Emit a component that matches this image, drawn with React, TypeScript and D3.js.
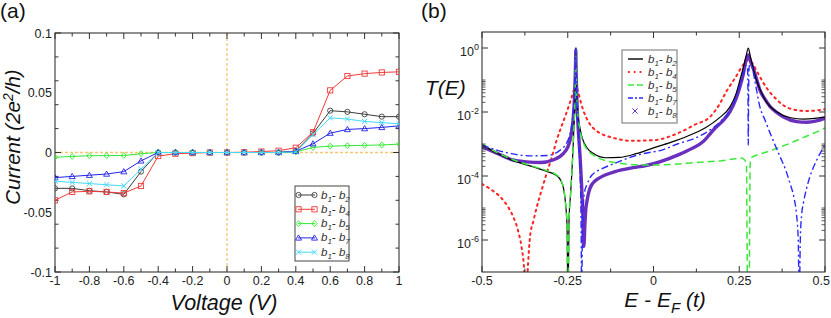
import React from 'react';
import * as d3 from 'd3';

// ---- panel (a): I-V curves ----
const voltage = [-1, -0.9, -0.8, -0.7, -0.6, -0.5, -0.4, -0.3, -0.2, -0.1, 0, 0.1, 0.2, 0.3, 0.4, 0.5, 0.6, 0.7, 0.8, 0.9, 1];
const curB2 = [-0.030, -0.030, -0.032, -0.033, -0.035, -0.016, 0, 0, 0, 0, 0, 0, 0, 0, 0.0012, 0.016, 0.035, 0.034, 0.032, 0.030, 0.030];
const curB4 = [-0.040, -0.033, -0.0325, -0.033, -0.034, -0.028, -0.003, -0.001, -0.0005, 0, 0, 0.0002, 0.0008, 0.0015, 0.004, 0.017, 0.052, 0.064, 0.066, 0.067, 0.0675];
const curB5 = [-0.004, -0.0033, -0.0027, -0.0026, -0.0025, -0.001, 0, 0, 0, 0, 0, 0, 0, 0, 0.0005, 0.0042, 0.0053, 0.0057, 0.006, 0.0063, 0.007];
const curB7 = [-0.021, -0.020, -0.019, -0.018, -0.016, -0.007, 0, 0, 0, 0, 0, 0, 0, 0, 0.001, 0.0073, 0.0162, 0.0193, 0.020, 0.021, 0.0223];
const curB8 = [-0.024, -0.025, -0.026, -0.027, -0.028, -0.014, 0, 0, 0, 0, 0, 0, 0, 0, 0.0005, 0.015, 0.029, 0.028, 0.026, 0.025, 0.024];
const voltTicks = [-1, -0.8, -0.6, -0.4, -0.2, 0, 0.2, 0.4, 0.6, 0.8, 1];
const voltTickLabels = ['-1', '-0.8', '-0.6', '-0.4', '-0.2', '0', '0.2', '0.4', '0.6', '0.8', '1'];
const curTicks = [-0.1, -0.05, 0, 0.05, 0.1];
const curTickLabels = ['-0.1', '-0.05', '0', '0.05', '0.1'];

// ---- panel (b): transmission, [E, log10 T] ----
const tB2: [number, number][] = [
  [-0.5, -3.03], [-0.45, -3.32], [-0.4, -3.55], [-0.35, -3.72], [-0.31, -3.86], [-0.285, -3.97], [-0.27, -4.15],
  [-0.262, -4.4], [-0.256, -4.9], [-0.252, -5.6], [-0.2495, -8], [-0.246, -5.3], [-0.242, -4.6], [-0.238, -3.9],
  [-0.234, -3.0], [-0.231, -2.2], [-0.2285, -1.4], [-0.2272, -0.7], [-0.2265, 0], [-0.226, -0.6], [-0.224, -1.4],
  [-0.221, -2.0], [-0.216, -2.4], [-0.208, -2.8], [-0.195, -3.1], [-0.175, -3.3], [-0.14, -3.43], [-0.1, -3.42],
  [-0.05, -3.3], [0, -3.12], [0.05, -2.95], [0.1, -2.75], [0.15, -2.5], [0.19, -2.2], [0.223, -1.84], [0.24, -1.45],
  [0.252, -1.0], [0.262, -0.6], [0.27, -0.25], [0.2764, 0], [0.283, -0.3], [0.29, -0.6], [0.3, -1.0], [0.315, -1.4],
  [0.33, -1.7], [0.36, -2.0], [0.4, -2.18], [0.436, -2.22], [0.47, -2.2], [0.5, -2.15],
];
const tB4: [number, number][] = [
  [-0.5, -4.25], [-0.47, -4.45], [-0.447, -4.65], [-0.425, -4.95], [-0.41, -5.25], [-0.395, -5.7], [-0.385, -6.2],
  [-0.378, -6.8], [-0.372, -8], [-0.366, -6.8], [-0.36, -5.9], [-0.35, -5.4], [-0.34, -4.96], [-0.325, -4.4],
  [-0.311, -3.9], [-0.296, -3.4], [-0.282, -2.87], [-0.27, -2.5], [-0.258, -2.15], [-0.245, -1.75], [-0.238, -1.52],
  [-0.232, -1.3], [-0.2265, -1.15], [-0.22, -1.35], [-0.213, -1.65], [-0.205, -1.94], [-0.19, -2.3], [-0.176, -2.5],
  [-0.156, -2.66], [-0.12, -2.8], [-0.064, -2.9], [0, -2.88], [0.072, -2.66], [0.12, -2.4], [0.165, -2.15],
  [0.19, -1.8], [0.213, -1.35], [0.24, -0.9], [0.262, -0.52], [0.2764, -0.38], [0.29, -0.5], [0.3, -0.7],
  [0.33, -1.25], [0.36, -1.62], [0.38, -1.8], [0.407, -1.92], [0.447, -1.97], [0.475, -1.95], [0.5, -1.91],
];
const tB5: [number, number][] = [
  [-0.5, -3.0], [-0.45, -3.3], [-0.4, -3.53], [-0.35, -3.7], [-0.31, -3.84], [-0.285, -3.95], [-0.27, -4.13],
  [-0.262, -4.4], [-0.256, -4.9], [-0.252, -5.6], [-0.2495, -8], [-0.246, -5.3], [-0.242, -4.6], [-0.238, -3.9],
  [-0.234, -3.0], [-0.231, -2.2], [-0.2285, -1.4], [-0.2272, -0.7], [-0.2265, -0.05], [-0.226, -0.6], [-0.224, -1.4],
  [-0.221, -2.0], [-0.216, -2.45], [-0.208, -2.85], [-0.195, -3.15], [-0.175, -3.35], [-0.14, -3.52], [-0.1, -3.6],
  [-0.05, -3.65], [0, -3.66], [0.05, -3.64], [0.1, -3.6], [0.15, -3.56], [0.2, -3.52], [0.24, -3.46], [0.256, -3.44],
  [0.266, -3.5], [0.271, -3.65], [0.2745, -8], [0.2785, -8], [0.282, -3.6], [0.286, -3.42], [0.3, -3.35],
  [0.33, -3.25], [0.36, -3.13], [0.4, -2.97], [0.436, -2.8], [0.47, -2.65], [0.5, -2.5],
];
const tB7: [number, number][] = [
  [-0.5, -3.03], [-0.457, -3.19], [-0.41, -3.31], [-0.36, -3.37], [-0.31, -3.36], [-0.273, -3.2], [-0.255, -3.0],
  [-0.245, -2.75], [-0.237, -2.3], [-0.232, -1.7], [-0.229, -1.1], [-0.2272, -0.5], [-0.2265, 0], [-0.226, -0.5],
  [-0.2245, -1.2], [-0.222, -2.0], [-0.218, -2.9], [-0.214, -3.9], [-0.211, -5.5], [-0.2095, -8], [-0.207, -5.5],
  [-0.204, -4.8], [-0.2, -4.45], [-0.195, -4.3], [-0.185, -4.05], [-0.17, -3.88], [-0.156, -3.8], [-0.112, -3.6],
  [-0.074, -3.44], [-0.03, -3.3], [0.024, -3.19], [0.07, -3.0], [0.121, -2.82], [0.165, -2.56], [0.2, -2.25],
  [0.223, -1.94], [0.245, -1.4], [0.262, -0.8], [0.27, -0.55], [0.274, -0.6], [0.2755, -1.5], [0.2764, -3.03],
  [0.2773, -1.5], [0.279, -0.55], [0.286, -0.55], [0.295, -1.0], [0.31, -1.83], [0.325, -2.25], [0.34, -2.66],
  [0.369, -3.4], [0.385, -3.8], [0.398, -4.23], [0.41, -4.7], [0.417, -5.2], [0.422, -6.0], [0.425, -8],
  [0.428, -6.0], [0.432, -5.2], [0.437, -4.85], [0.446, -4.4], [0.456, -4.02], [0.476, -3.5], [0.5, -3.03],
];
const tB8: [number, number][] = [
  [-0.5, -3.08], [-0.45, -3.32], [-0.41, -3.5], [-0.37, -3.56], [-0.33, -3.58], [-0.293, -3.5], [-0.263, -3.3],
  [-0.25, -3.1], [-0.243, -2.87], [-0.237, -2.5], [-0.234, -2.2], [-0.231, -1.7], [-0.2285, -1.0], [-0.2272, -0.5],
  [-0.2265, -0.06], [-0.226, -0.5], [-0.2245, -1.2], [-0.222, -2.0], [-0.219, -2.6], [-0.214, -3.4], [-0.21, -4.2],
  [-0.206, -5.2], [-0.203, -6.2], [-0.2, -5.5], [-0.197, -5.0], [-0.195, -4.85], [-0.185, -4.38], [-0.17, -4.15],
  [-0.156, -4.05], [-0.141, -3.97], [-0.112, -3.86], [-0.06, -3.74], [-0.025, -3.68], [0.02, -3.55], [0.072, -3.34],
  [0.1, -3.2], [0.15, -2.87], [0.165, -2.68], [0.18, -2.5], [0.2, -2.3], [0.223, -1.99], [0.24, -1.6], [0.252, -1.21],
  [0.262, -0.8], [0.268, -0.47], [0.2764, -0.22], [0.284, -0.45], [0.291, -0.65], [0.3, -0.95], [0.31, -1.31],
  [0.325, -1.6], [0.34, -1.83], [0.36, -2.02], [0.378, -2.15], [0.417, -2.3], [0.447, -2.32], [0.475, -2.28], [0.5, -2.19],
];
const energyTicks = [-0.5, -0.25, 0, 0.25, 0.5];
const energyTickLabels = ['-0.5', '-0.25', '0', '0.25', '0.5'];
const energyMinor = [-0.375, -0.125, 0.125, 0.375];
const tDecades = [0, -2, -4, -6];

const FONT = '"Liberation Sans", Arial, Helvetica, sans-serif';
const TXT = '#222';

function Legend({ x, y, text2 }: { x: number; y: number; text2: string }) {
  return (
    <text x={x} y={y} fontSize={11.5} fontStyle="italic" fill="#333" fontFamily={FONT}>
      b<tspan dy={3} fontSize={8}>1</tspan>
      <tspan dy={-3}>- b</tspan>
      <tspan dy={3} fontSize={8}>{text2}</tspan>
    </text>
  );
}

function marker(kind: string, x: number, y: number, color: string, key: string) {
  const s = 2.6;
  if (kind === 'circle') return <circle key={key} cx={x} cy={y} r={2.6} fill="none" stroke={color} strokeWidth={0.9} />;
  if (kind === 'square') return <rect key={key} x={x - s} y={y - s} width={2 * s} height={2 * s} fill="none" stroke={color} strokeWidth={0.9} />;
  if (kind === 'diamond') return <path key={key} d={`M${x},${y - 3}L${x + 2.6},${y}L${x},${y + 3}L${x - 2.6},${y}Z`} fill="none" stroke={color} strokeWidth={0.9} />;
  if (kind === 'triangle') return <path key={key} d={`M${x},${y - 3}L${x + 3},${y + 2.2}L${x - 3},${y + 2.2}Z`} fill="none" stroke={color} strokeWidth={0.9} />;
  return <path key={key} d={`M${x - s},${y - s}L${x + s},${y + s}M${x - s},${y + s}L${x + s},${y - s}`} stroke={color} strokeWidth={1} />;
}

export default function App() {
  // panel (a)
  const xa = d3.scaleLinear().domain([-1, 1]).range([55, 399]);
  const ya = d3.scaleLinear().domain([-0.1, 0.1]).range([272, 33]);
  const lineA = d3.line<number>().x((_, i) => xa(voltage[i])).y(d => ya(d));
  const seriesA = [
    { vals: curB2, color: '#3c3c3c', kind: 'circle', sub: '2' },
    { vals: curB4, color: '#f03a3a', kind: 'square', sub: '4' },
    { vals: curB5, color: '#33e833', kind: 'diamond', sub: '5' },
    { vals: curB7, color: '#2323e6', kind: 'triangle', sub: '7' },
    { vals: curB8, color: '#44d8f8', kind: 'x', sub: '8' },
  ];

  // panel (b)
  const xb = d3.scaleLinear().domain([-0.5, 0.5]).range([482, 825]);
  const yb = d3.scaleLog().domain([1e-7, Math.pow(10, 0.5)]).range([272, 32]);
  const lineB = d3.line<[number, number]>().x(d => xb(d[0])).y(d => yb(Math.pow(10, d[1]))).curve(d3.curveMonotoneX);
  const sB2 = { pts: tB2, color: '#000', width: 1.2, dash: undefined as string | undefined, sub: '2' };
  const sB4 = { pts: tB4, color: '#ff2424', width: 2, dash: '1.8,4.2', sub: '4' };
  const sB5 = { pts: tB5, color: '#3ce83c', width: 1.5, dash: '7,4', sub: '5' };
  const sB7 = { pts: tB7, color: '#2a2aff', width: 1.4, dash: '7,3,2,3', sub: '7' };
  const sB8 = { pts: tB8, color: '#6a2fbd', width: 3.4, dash: undefined as string | undefined, sub: '8' };
  const drawOrder = [sB4, sB8, sB2, sB5, sB7];
  const legendOrder = [sB2, sB4, sB5, sB7, sB8];
  const minorLog = tDecades.filter(d => d < 0).flatMap(d => d3.range(2, 11).map(k => k * Math.pow(10, d)));

  const frame = (x0: number, y0: number, x1: number, y1: number) => (
    <rect x={x0} y={y0} width={x1 - x0} height={y1 - y0} fill="none" stroke="#333" strokeWidth={1.1} />
  );

  return (
    <svg width={831} height={318} style={{ position: 'absolute', left: 0, top: 0, background: '#fff' }} fontFamily={FONT}>
      <defs>
        <clipPath id="clipB"><rect x={482} y={32} width={343} height={240} /></clipPath>
        <clipPath id="clipA"><rect x={55} y={33} width={344} height={239} /></clipPath>
      </defs>
      <rect width={831} height={318} fill="#fff" />

      {/* ---------- panel (a) ---------- */}
      <text x={0} y={18} fontSize={21} fill="#111">(a)</text>
      <line x1={xa(-1)} x2={xa(1)} y1={ya(0)} y2={ya(0)} stroke="#f7c670" strokeWidth={1.3} strokeDasharray="3,2" />
      <line x1={xa(0)} x2={xa(0)} y1={ya(0.1)} y2={ya(-0.1)} stroke="#f7c670" strokeWidth={1.3} strokeDasharray="3,2" />
      {frame(55, 33, 399, 272)}
      {xa.ticks(20).map((t, i) => {
        const major = voltTicks.some(v => Math.abs(v - t) < 1e-9);
        const len = major ? 6 : 3.5;
        return (
          <g key={'xa' + i} stroke="#333" strokeWidth={1}>
            <line x1={xa(t)} x2={xa(t)} y1={272} y2={272 - len} />
            <line x1={xa(t)} x2={xa(t)} y1={33} y2={33 + len} />
          </g>
        );
      })}
      {ya.ticks(8).map((t, i) => {
        const major = curTicks.some(v => Math.abs(v - t) < 1e-9);
        const len = major ? 6 : 3.5;
        return (
          <g key={'ya' + i} stroke="#333" strokeWidth={1}>
            <line x1={55} x2={55 + len} y1={ya(t)} y2={ya(t)} />
            <line x1={399} x2={399 - len} y1={ya(t)} y2={ya(t)} />
          </g>
        );
      })}
      {voltTicks.map((t, i) => (
        <text key={'xl' + i} x={xa(t)} y={285} fontSize={12.5} textAnchor="middle" fill={TXT}>{voltTickLabels[i]}</text>
      ))}
      {curTicks.map((t, i) => (
        <text key={'yl' + i} x={52} y={ya(t) + 4.5} fontSize={12.5} textAnchor="end" fill={TXT}>{curTickLabels[i]}</text>
      ))}
      <g clipPath="url(#clipA)">
        {seriesA.map(s => (
          <g key={'sa' + s.sub}>
            <path d={lineA(s.vals) || ''} fill="none" stroke={s.color} strokeWidth={1} />
            {s.vals.map((v, i) => marker(s.kind, xa(voltage[i]), ya(v), s.color, s.sub + '-' + i))}
          </g>
        ))}
      </g>
      <text x={224} y={310} fontSize={21.5} fontStyle="italic" textAnchor="middle" fill="#111">Voltage (V)</text>
      <text transform="translate(19.5,137) rotate(-90)" fontSize={20.5} fontStyle="italic" textAnchor="middle" fill="#111">
        Current (2e<tspan dy={-7} fontSize={14}>2</tspan><tspan dy={7}>/h)</tspan>
      </text>
      {/* legend (a) */}
      <rect x={295} y={186} width={54} height={75} fill="#fff" stroke="#444" strokeWidth={1} />
      {seriesA.map((s, i) => {
        const yy = 195 + i * 14.3;
        return (
          <g key={'la' + i}>
            <line x1={298} x2={315} y1={yy} y2={yy} stroke={s.color} strokeWidth={1} />
            {marker(s.kind, 298.5, yy, s.color, 'lm1' + i)}
            {marker(s.kind, 314.5, yy, s.color, 'lm2' + i)}
            <Legend x={321} y={yy + 3.5} text2={s.sub} />
          </g>
        );
      })}

      {/* ---------- panel (b) ---------- */}
      <text x={421} y={18} fontSize={21} fill="#111">(b)</text>
      <g clipPath="url(#clipB)">
        {drawOrder.map(s => (
          <path key={'sb' + s.sub} d={lineB(s.pts) || ''} fill="none" stroke={s.color} strokeWidth={s.width}
            strokeDasharray={s.dash} strokeLinecap={s.sub === '4' ? 'round' : 'butt'} strokeLinejoin="round" />
        ))}
      </g>
      {frame(482, 32, 825, 272)}
      {energyTicks.concat(energyMinor).map((t, i) => {
        const len = i < energyTicks.length ? 6 : 3.5;
        return (
          <g key={'xb' + i} stroke="#333" strokeWidth={1}>
            <line x1={xb(t)} x2={xb(t)} y1={272} y2={272 - len} />
            <line x1={xb(t)} x2={xb(t)} y1={32} y2={32 + len} />
          </g>
        );
      })}
      {tDecades.map((d, i) => (
        <g key={'yb' + i} stroke="#333" strokeWidth={1}>
          <line x1={482} x2={488} y1={yb(Math.pow(10, d))} y2={yb(Math.pow(10, d))} />
          <line x1={825} x2={819} y1={yb(Math.pow(10, d))} y2={yb(Math.pow(10, d))} />
        </g>
      ))}
      {minorLog.map((v, i) => (
        <g key={'ybm' + i} stroke="#333" strokeWidth={0.8}>
          <line x1={482} x2={485.5} y1={yb(v)} y2={yb(v)} />
          <line x1={825} x2={821.5} y1={yb(v)} y2={yb(v)} />
        </g>
      ))}
      {energyTicks.map((t, i) => {
        const last = i === energyTicks.length - 1;
        return (
          <text key={'xbl' + i} x={last ? 830 : xb(t)} y={285} fontSize={12.5}
            textAnchor={last ? 'end' : 'middle'} fill={TXT}>{energyTickLabels[i]}</text>
        );
      })}
      {tDecades.map((d, i) => (
        <text key={'ybl' + i} x={479} y={yb(Math.pow(10, d)) + 8} fontSize={12.5} textAnchor="end" fill={TXT}>
          10<tspan dy={-6} fontSize={9}>{String(d)}</tspan>
        </text>
      ))}
      <text x={425} y={95} fontSize={21} fontStyle="italic" fill="#111">T(E)</text>
      <text x={665} y={307} fontSize={21} fontStyle="italic" textAnchor="middle" fill="#111">
        E - E<tspan dy={6} fontSize={15}>F</tspan><tspan dy={-6}> (t)</tspan>
      </text>
      {/* legend (b) */}
      <rect x={622} y={50} width={55} height={73} fill="#fff" stroke="#888" strokeWidth={1.2} />
      {legendOrder.map((s, i) => {
        const yy = 59 + i * 13;
        return (
          <g key={'lb' + i}>
            {s.sub === '8'
              ? marker('x', 635, yy, s.color, 'lbm')
              : <line x1={628} x2={643} y1={yy} y2={yy} stroke={s.color} strokeWidth={s.sub === '4' ? 2 : 1.4}
                  strokeDasharray={s.sub === '4' ? '1.8,4' : s.sub === '5' ? '6,3' : s.sub === '7' ? '5,2,2,2' : undefined} />}
            <Legend x={648} y={yy + 4} text2={s.sub} />
          </g>
        );
      })}
    </svg>
  );
}
